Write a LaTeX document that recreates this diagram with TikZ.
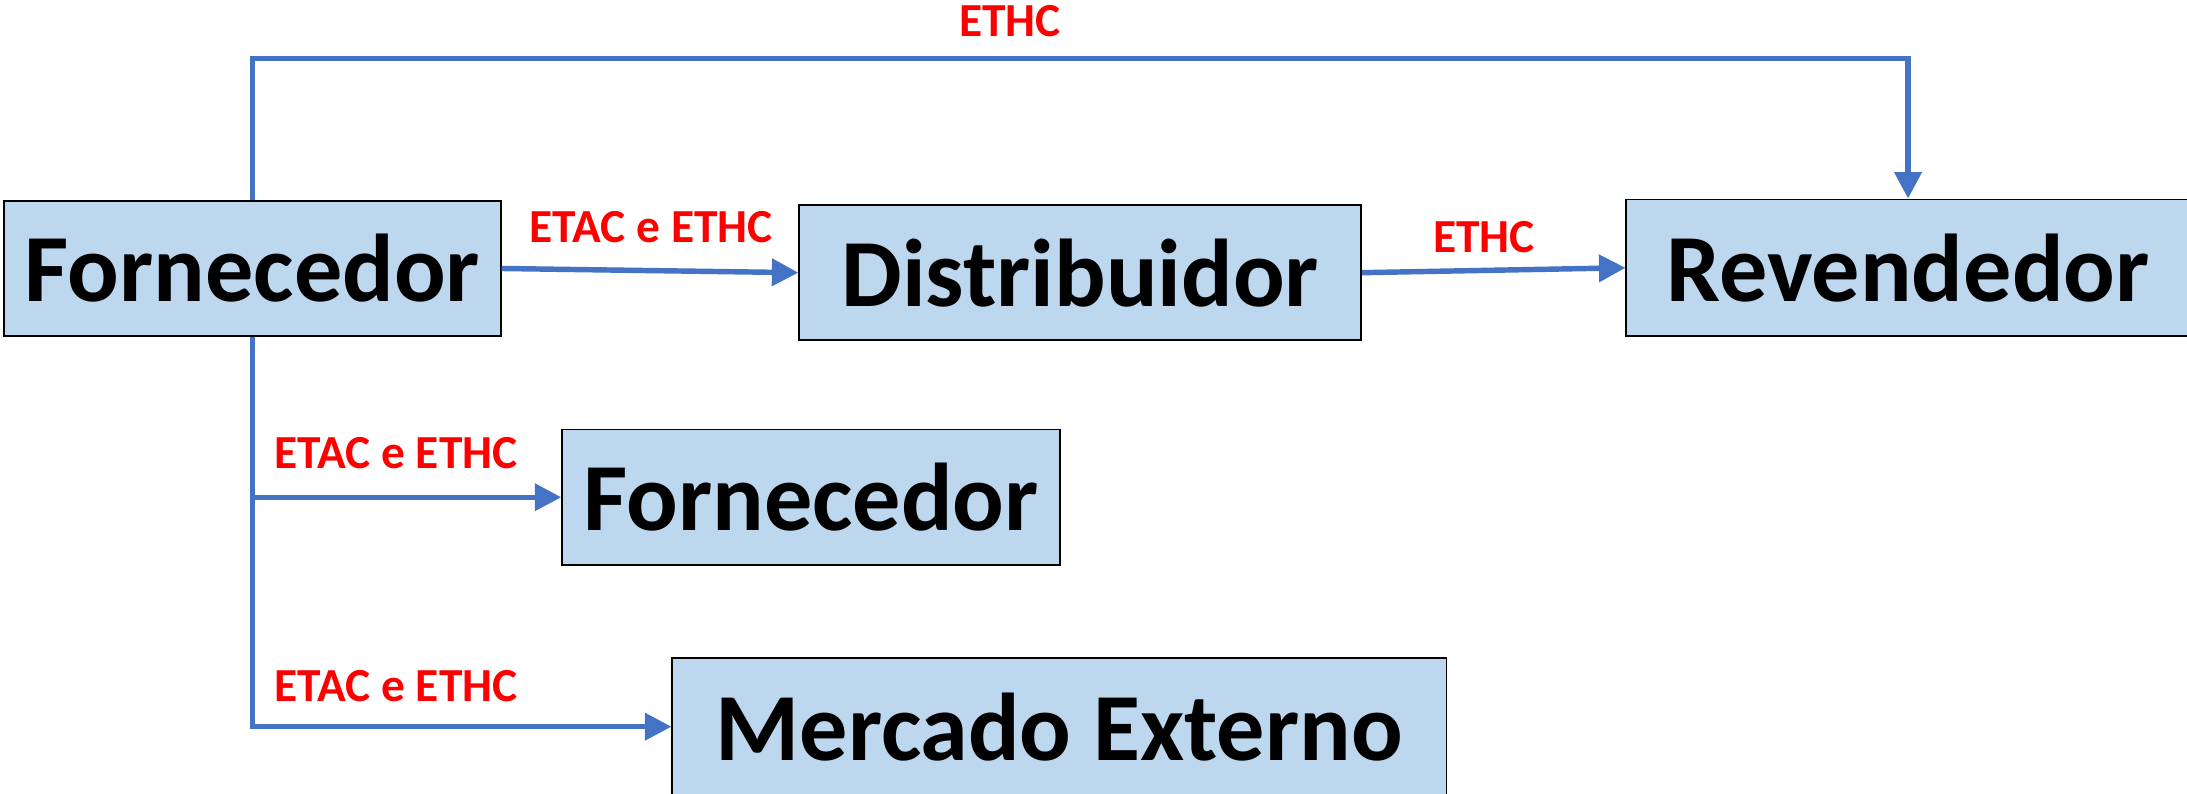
\documentclass[tikz,border=0pt]{standalone}
\usepackage{fontspec}
\setmainfont{Carlito}
\usetikzlibrary{arrows.meta}
\definecolor{boxfill}{HTML}{BDD7EE}
\definecolor{connblue}{HTML}{4472C4}
\definecolor{labred}{HTML}{FF0000}
\begin{document}
\begin{tikzpicture}[x=1pt,y=-1pt,
  entity/.style={draw=black, line width=1.2pt, fill=boxfill, inner sep=0pt,
    font=\fontsize{69}{80}\selectfont\bfseries, text=black},
  conn/.style={draw=connblue, line width=3.9pt,
    -{Triangle[length=19pt,width=19pt]}},
  lab/.style={font=\fontsize{34}{40}\selectfont\bfseries, text=labred, inner sep=0pt}]
\useasboundingbox (0,0) rectangle (1568,569);
\fill[white] (0,0) rectangle (1568,569);
\begin{scope}
\clip (0,0) rectangle (1568,569);
\node[entity, minimum width=356pt, minimum height=97pt] (F1) at (181,192.5) {Fornecedor};
\node[entity, minimum width=403pt, minimum height=97pt] (D) at (774.5,195.5) {Distribuidor};
\node[entity, minimum width=404pt, minimum height=98pt] (R) at (1368,192) {Revendedor};
\node[entity, minimum width=357pt, minimum height=97pt] (F2) at (581.5,356.5) {Fornecedor};
\node[entity, minimum width=555pt, minimum height=98pt] (M) at (759.5,521) {Mercado Externo};
\end{scope}
\coordinate (toprow) at (724,42);
\draw[conn] (F1.north) |- (toprow) -| (R.north);
\draw[conn] (F1.east) -- (D.west);
\draw[conn] (D.east) -- (R.west);
\draw[conn] (F1.south) |- (M.west);
\coordinate (branch) at (F1.south |- F2.west);
\draw[conn] (branch) -- (F2.west);
\node[lab] (l1) at (724,15) {ETHC};
\node[lab] (l2) at (467,163) {ETAC e ETHC};
\node[lab] (l3) at (1064,170) {ETHC};
\node[lab] (l4) at (284,325) {ETAC e ETHC};
\node[lab] (l5) at (284,492) {ETAC e ETHC};
\end{tikzpicture}
\end{document}
